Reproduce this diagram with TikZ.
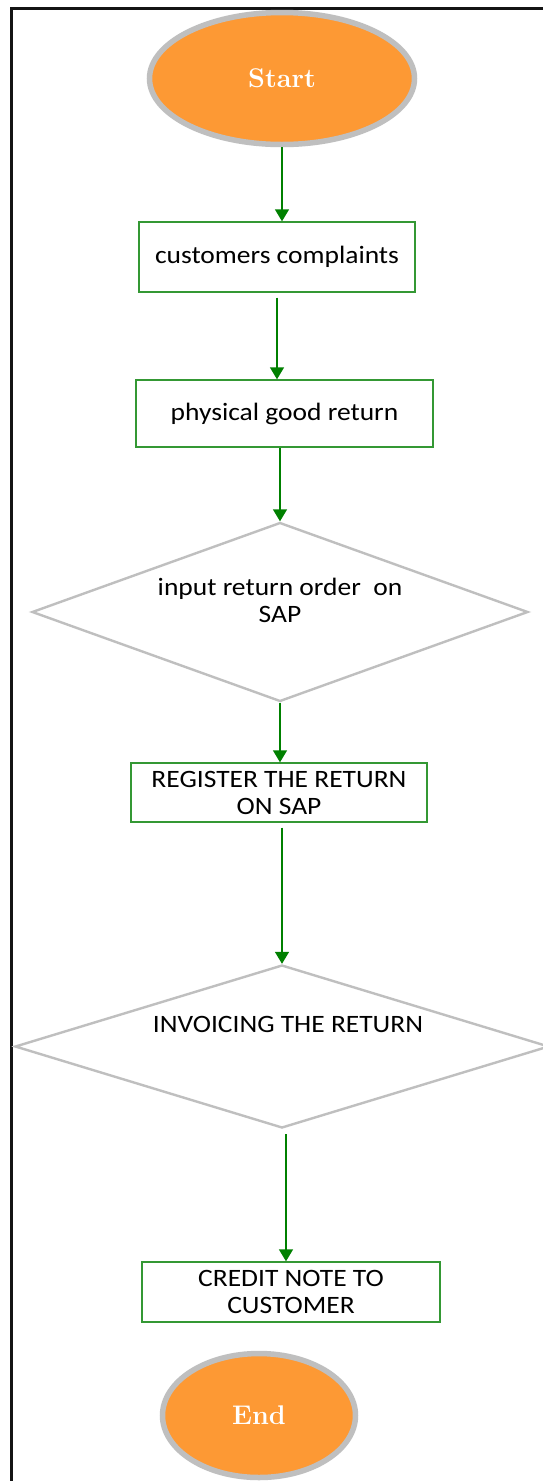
\documentclass[tikz,border=0pt]{standalone}
\usepackage{fontspec}
\usetikzlibrary{shapes.geometric,arrows.meta}
\newfontfamily\boxfontfamily{Carlito}[FakeStretch=1.1]
\newcommand{\boxfont}{\boxfontfamily\fontsize{25}{27}\selectfont}
\newcommand{\termfont}{\rmfamily\bfseries\fontsize{27}{30}\selectfont}
\definecolor{flowgreen}{RGB}{0,128,0}
\definecolor{boxgreen}{RGB}{52,152,52}
\definecolor{termgray}{RGB}{191,191,191}
\definecolor{termorange}{RGB}{253,153,52}
\definecolor{framegray}{RGB}{20,20,20}
\begin{document}
\begin{tikzpicture}[x=1pt,y=-1pt,
  conn/.style={draw=flowgreen, line width=1.5pt, -{Triangle[width=14pt,length=12pt]}},
  procbox/.style={rectangle, draw=boxgreen, line width=1.4pt, inner sep=0pt,
    font=\boxfont, align=center},
  terminal/.style={ellipse, draw=termgray, line width=5.5pt, fill=termorange,
    text=white, font=\termfont, inner sep=0pt},
  decision/.style={diamond, draw=termgray, line width=2.4pt, inner sep=0pt},
  dlabel/.style={font=\boxfont, align=center}
]
\useasboundingbox (0,0) rectangle (543,1481);
\clip (0,0) rectangle (543,1481);
\fill[white] (0,0) rectangle (543,1481);

% page frame
\draw[framegray, line width=3pt] (11,1490) -- (11,8) -- (560,8);

% flow steps
\node[terminal, minimum width=265pt, minimum height=132pt] (start) at (282,78.5) {Start};
\node[procbox, minimum width=276pt, minimum height=70pt] (complaints) at (277,257) {customers complaints};
\node[procbox, minimum width=297pt, minimum height=67pt] (goodreturn) at (284.5,413.5) {physical good return};
\node[decision, minimum width=496pt, minimum height=179pt,
  label={[dlabel, yshift=12pt]center:{input return order~\ on\\SAP}}] (inputorder) at (280,612) {};
\node[procbox, minimum width=296pt, minimum height=59pt] (register) at (279,792.5) {REGISTER THE RETURN\\ON SAP};
\node[decision, minimum width=534pt, minimum height=163pt,
  label={[dlabel, yshift=22pt, xshift=6pt]center:{INVOICING THE RETURN}}] (invoicing) at (282,1046.5) {};
\node[procbox, minimum width=298pt, minimum height=60pt] (credit) at (291,1292) {CREDIT NOTE TO\\CUSTOMER};
\node[terminal, minimum width=193pt, minimum height=124pt] (finish) at (259,1415.5) {End};

% connectors
\draw[conn] (start.south) -- (start.south |- complaints.north);
\draw[conn, shorten <=5pt] (complaints.south) -- (complaints.south |- goodreturn.north);
\draw[conn] (goodreturn.south -| inputorder.north) -- (inputorder.north);
\draw[conn] (inputorder.south) -- (inputorder.south |- register.north);
\draw[conn, shorten <=5pt] (register.south -| invoicing.north) -- (invoicing.north);
\draw[conn, shorten <=5pt] ([xshift=4pt]invoicing.south) -- ([xshift=4pt]invoicing.south |- credit.north);
\end{tikzpicture}
\end{document}
